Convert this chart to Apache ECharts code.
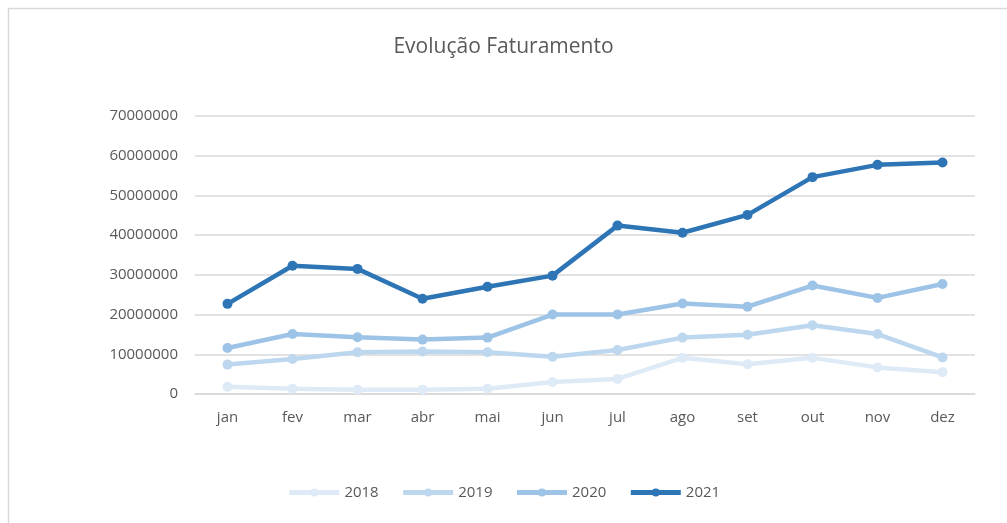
<!DOCTYPE html>
<html>
<head>
<meta charset="utf-8">
<script src="https://cdn.jsdelivr.net/npm/echarts@6/dist/echarts.min.js"></script>
<style>
  html, body { margin: 0; padding: 0; background: #fff; }
  #chart { width: 1007px; height: 523px; }
</style>
</head>
<body>
<div id="chart"></div>
<script>
const months = ["jan", "fev", "mar", "abr", "mai", "jun", "jul", "ago", "set", "out", "nov", "dez"];
const years = ["2018", "2019", "2020", "2021"];
const colors = ["#deebf7", "#bdd7ee", "#9dc3e6", "#2e75b6"];

const v2018 = [1800000, 1300000, 1100000, 1100000, 1300000, 3000000, 3800000, 9100000, 7500000, 9100000, 6700000, 5500000];
const v2019 = [7400000, 8800000, 10500000, 10700000, 10500000, 9400000, 11100000, 14200000, 14900000, 17300000, 15100000, 9200000];
const v2020 = [11600000, 15100000, 14300000, 13700000, 14200000, 20000000, 20000000, 22800000, 22000000, 27300000, 24200000, 27700000];
const v2021 = [22700000, 32300000, 31500000, 24000000, 27000000, 29800000, 42400000, 40600000, 45100000, 54600000, 57700000, 58300000];

const values = [v2018, v2019, v2020, v2021];
const font = "'Open Sans', 'Noto Sans', sans-serif";

let chart = echarts.init(document.getElementById("chart"));

let options = {
  animation: false,
  title: {
    text: "Evolução Faturamento",
    left: "center",
    top: 32,
    textStyle: {
      fontFamily: font,
      fontWeight: "normal",
      fontSize: 21,
      color: "#595959"
    }
  },
  graphic: [
    {
      type: "rect",
      shape: { x: 8.5, y: 8.5, width: 1020, height: 540 },
      style: { fill: "none", stroke: "#d9d9d9", lineWidth: 1.5 },
      silent: true
    }
  ],
  grid: {
    left: 195,
    right: 32,
    top: 116,
    bottom: 129
  },
  legend: {
    bottom: 18,
    left: "center",
    itemWidth: 50,
    itemHeight: 10,
    itemGap: 22,
    lineStyle: { width: 5 },
    textStyle: { fontFamily: font, fontSize: 15, color: "#595959" },
    data: years
  },
  xAxis: {
    type: "category",
    data: months,
    boundaryGap: true,
    axisLine: { lineStyle: { color: "#d9d9d9", width: 1.5 } },
    axisTick: { show: false },
    axisLabel: { fontFamily: font, fontSize: 15, color: "#595959", margin: 16 }
  },
  yAxis: {
    type: "value",
    min: 0,
    max: 70000000,
    interval: 10000000,
    axisLine: { show: false },
    axisTick: { show: false },
    axisLabel: {
      fontFamily: font,
      fontSize: 15,
      color: "#595959",
      margin: 17,
      formatter: v => String(v)
    },
    splitLine: { lineStyle: { color: "#d9d9d9", width: 1.5 } }
  },
  series: []
};

options.series = years.map((y, i) => ({
  name: y,
  type: "line",
  data: values[i],
  color: colors[i],
  symbol: "circle",
  symbolSize: 10,
  lineStyle: { width: 4.5, color: colors[i] },
  itemStyle: { color: colors[i] }
}));

chart.setOption(options);
</script>
</body>
</html>
